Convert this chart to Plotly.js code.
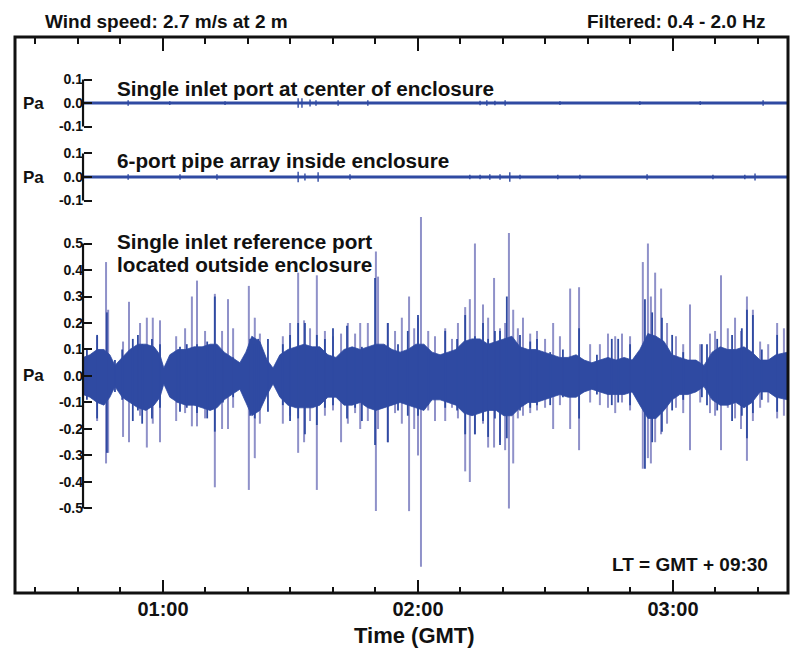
<!DOCTYPE html>
<html>
<head>
<meta charset="utf-8">
<script src="https://cdn.plot.ly/plotly-3.0.1.min.js"></script>
<style>html,body{margin:0;padding:0;background:#fff;}#chart{width:795px;height:651px;}</style>
</head>
<body>
<div id="chart"></div>
<script>
// ---- data (time in minutes after 00:00 GMT, pressure in Pa) ----
var baseTime = [41.2, 207.0];
var baseVal = [0, 0];

var p1Time = [51.8,61.6,74.6,91.8,92.7,94.6,96.0,101.2,108.2,134.6,136.2,138.1,140.5,153.4,172.2,186.4,201.2];
var p1Amp  = [0.012,0.008,0.008,0.02,0.02,0.015,0.012,0.012,0.012,0.01,0.012,0.01,0.012,0.008,0.008,0.008,0.012];

var p2Time = [51.8,64.0,72.7,91.8,93.4,96.5,104.0,132.2,134.6,136.9,139.3,141.6,144.0,152.9,158.1,173.9,189.4,196.9,199.3];
var p2Amp  = [0.012,0.012,0.012,0.022,0.015,0.02,0.012,0.01,0.01,0.012,0.012,0.02,0.01,0.01,0.01,0.012,0.01,0.01,0.015];

// dense band envelope of the reference port record
var refTime = [41.2,42.8,44.5,46.1,47.5,48.7,50.4,52.2,54.1,56.0,
  57.9,59.3,60.2,61.6,63.5,65.4,67.3,69.2,71.1,72.7,
  74.4,76.2,78.1,79.5,80.9,82.8,84.5,85.9,87.5,89.4,
  91.3,93.2,95.1,96.9,98.8,100.7,102.6,104.5,106.4,108.2,
  110.1,112.0,113.9,115.8,117.6,119.5,121.4,123.3,125.2,127.1,
  128.9,130.8,132.7,134.6,136.5,138.4,140.2,142.1,144.0,145.9,
  147.8,149.6,151.5,153.4,155.3,157.2,159.1,160.9,162.8,164.7,
  166.6,168.5,170.4,172.2,174.1,176.0,177.9,179.8,181.6,183.5,
  185.4,187.3,189.2,191.1,192.9,194.8,196.7,198.6,200.5,202.4,
  204.2,207.0];
var refUpper = [0.07,0.08,0.10,0.10,0.08,0.04,0.07,0.10,0.12,0.12,
  0.11,0.08,0.03,0.08,0.10,0.10,0.11,0.11,0.12,0.12,
  0.09,0.07,0.05,0.09,0.15,0.13,0.06,0.03,0.08,0.10,
  0.11,0.12,0.11,0.11,0.08,0.07,0.10,0.11,0.10,0.11,
  0.12,0.12,0.10,0.09,0.10,0.12,0.12,0.09,0.08,0.09,
  0.10,0.13,0.14,0.14,0.12,0.13,0.14,0.15,0.11,0.10,
  0.10,0.09,0.08,0.07,0.07,0.08,0.06,0.05,0.06,0.07,
  0.06,0.07,0.06,0.10,0.16,0.15,0.13,0.08,0.07,0.06,
  0.06,0.04,0.09,0.11,0.10,0.10,0.11,0.09,0.06,0.06,
  0.08,0.09];
var refLower = [-0.07,-0.08,-0.10,-0.11,-0.08,-0.04,-0.08,-0.10,-0.12,-0.13,
  -0.11,-0.08,-0.03,-0.08,-0.10,-0.11,-0.11,-0.12,-0.13,-0.12,
  -0.09,-0.07,-0.05,-0.10,-0.15,-0.13,-0.07,-0.03,-0.08,-0.11,
  -0.12,-0.12,-0.12,-0.11,-0.08,-0.08,-0.11,-0.11,-0.10,-0.12,
  -0.13,-0.12,-0.11,-0.10,-0.11,-0.12,-0.13,-0.09,-0.09,-0.10,
  -0.11,-0.14,-0.15,-0.14,-0.13,-0.13,-0.15,-0.15,-0.12,-0.10,
  -0.10,-0.09,-0.08,-0.07,-0.08,-0.08,-0.06,-0.05,-0.06,-0.07,
  -0.07,-0.07,-0.06,-0.11,-0.16,-0.16,-0.13,-0.09,-0.07,-0.07,
  -0.06,-0.04,-0.09,-0.11,-0.11,-0.10,-0.12,-0.10,-0.06,-0.06,
  -0.08,-0.09];

// medium dark oscillations sticking out of the band
var hairTime = [42.1,44.5,46.8,48.7,50.4,52.9,54.1,55.1,57.4,59.3,
  63.3,64.0,65.6,68.0,70.4,72.2,74.1,76.5,80.5,81.6,
  82.4,84.7,88.2,89.9,91.8,93.4,96.2,98.1,100.0,103.3,
  105.2,106.8,109.9,112.9,115.3,117.6,120.0,122.4,126.4,129.2,
  131.1,133.4,135.3,136.5,138.1,139.3,140.9,144.0,146.4,148.0,
  151.1,154.1,157.9,162.1,165.6,167.1,169.9,173.4,175.1,177.4,
  179.8,182.4,186.8,188.0,190.4,193.9,196.2,197.4,198.8,200.9,
  204.5];
var hairHigh = [0.10,0.155,0.24,0.06,0.10,0.14,0.155,0.12,0.14,0.12,
  0.09,0.11,0.12,0.12,0.13,0.30,0.09,0.07,0.14,0.12,
  0.14,0.14,0.12,0.155,0.20,0.20,0.155,0.14,0.18,0.19,
  0.10,0.11,0.37,0.20,0.12,0.17,0.23,0.10,0.17,0.14,
  0.23,0.15,0.20,0.14,0.17,0.17,0.30,0.155,0.13,0.14,
  0.09,0.10,0.18,0.08,0.14,0.14,0.12,0.29,0.24,0.22,
  0.155,0.09,0.12,0.12,0.14,0.155,0.18,0.25,0.23,0.10,
  0.155];
var hairLow = [-0.09,-0.16,-0.29,-0.06,-0.09,-0.17,-0.13,-0.18,-0.16,-0.12,
  -0.10,-0.135,-0.12,-0.14,-0.16,-0.21,-0.10,-0.08,-0.15,-0.16,
  -0.13,-0.135,-0.11,-0.17,-0.16,-0.22,-0.185,-0.12,-0.11,-0.16,
  -0.12,-0.17,-0.26,-0.25,-0.13,-0.15,-0.15,-0.11,-0.12,-0.13,
  -0.22,-0.22,-0.17,-0.23,-0.16,-0.26,-0.235,-0.13,-0.12,-0.11,
  -0.11,-0.08,-0.16,-0.07,-0.11,-0.10,-0.11,-0.35,-0.25,-0.21,
  -0.13,-0.09,-0.08,-0.11,-0.13,-0.17,-0.15,-0.235,-0.14,-0.09,
  -0.135];

// tall isolated pressure spikes
var spikeTime = [44.5,46.6,47.1,50.6,52.0,54.6,56.2,57.6,59.3,63.1,
  65.2,66.8,68.0,69.9,72.2,73.9,75.3,76.5,80.2,81.6,
  82.8,88.2,89.9,91.8,93.2,94.6,96.2,98.1,100.0,101.9,
  103.5,105.2,106.4,108.2,110.1,110.6,112.9,114.6,116.2,117.9,
  119.1,120.0,120.7,122.4,124.0,126.4,128.0,129.4,131.1,132.2,
  133.4,135.3,136.5,137.9,139.3,140.5,141.4,142.4,143.5,144.7,
  146.4,148.0,149.9,151.8,153.4,155.8,157.9,160.5,162.8,164.7,
  166.4,168.0,169.9,172.9,174.1,174.8,175.8,177.2,178.6,180.7,
  182.4,184.0,186.4,188.7,189.9,191.3,192.9,194.6,196.0,197.4,
  198.8,200.5,202.4,204.5,206.1];
var spikeHigh = [0.15,0.43,0.25,0.13,0.28,0.20,0.22,0.22,0.21,0.15,
  0.18,0.30,0.36,0.17,0.31,0.17,0.29,0.18,0.34,0.22,
  0.16,0.15,0.20,0.39,0.21,0.18,0.38,0.17,0.15,0.16,
  0.20,0.16,0.20,0.20,0.47,0.375,0.20,0.17,0.22,0.30,
  0.18,0.22,0.60,0.17,0.15,0.18,0.14,0.20,0.26,0.29,
  0.50,0.27,0.22,0.37,0.18,0.20,0.54,0.25,0.18,0.22,
  0.16,0.17,0.14,0.20,0.15,0.33,0.335,0.12,0.12,0.16,
  0.15,0.16,0.15,0.43,0.50,0.30,0.39,0.33,0.20,0.15,
  0.12,0.27,0.12,0.16,0.17,0.38,0.18,0.22,0.17,0.30,
  0.25,0.13,0.12,0.20,0.18];
var spikeLow = [-0.17,-0.33,-0.29,-0.23,-0.25,-0.15,-0.27,-0.18,-0.25,-0.17,
  -0.14,-0.19,-0.19,-0.16,-0.42,-0.20,-0.20,-0.12,-0.43,-0.31,
  -0.18,-0.18,-0.15,-0.29,-0.25,-0.17,-0.43,-0.15,-0.13,-0.25,
  -0.18,-0.14,-0.20,-0.17,-0.51,-0.20,-0.25,-0.14,-0.18,-0.51,
  -0.20,-0.30,-0.72,-0.13,-0.17,-0.17,-0.12,-0.16,-0.36,-0.40,
  -0.22,-0.18,-0.27,-0.27,-0.25,-0.28,-0.50,-0.33,-0.16,-0.15,
  -0.14,-0.13,-0.12,-0.20,-0.11,-0.20,-0.28,-0.10,-0.11,-0.12,
  -0.14,-0.10,-0.13,-0.35,-0.31,-0.33,-0.25,-0.22,-0.18,-0.12,
  -0.14,-0.28,-0.10,-0.14,-0.15,-0.28,-0.12,-0.16,-0.20,-0.32,
  -0.17,-0.12,-0.10,-0.16,-0.15];

var hourTicks = [60, 120, 180];
var hourLabels = ['01:00', '02:00', '03:00'];
var smallTicks = [-0.1, 0, 0.1];
var smallLabels = ['-0.1', '0.0', '0.1'];
var refTicks = [-0.5,-0.4,-0.3,-0.2,-0.1,0,0.1,0.2,0.3,0.4,0.5];
var refLabels = ['-0.5','-0.4','-0.3','-0.2','-0.1','0.0','0.1','0.2','0.3','0.4','0.5'];

// ---- build traces ----
function segs(t, hi, lo) {
  var x = [], y = [];
  for (var i = 0; i < t.length; i++) {
    x.push(t[i], t[i], null);
    y.push(hi[i], lo[i], null);
  }
  return {x: x, y: y};
}
function neg(a) { return a.map(function (v) { return -v; }); }

var BAND = '#2f4aa2';
var SPIKE = 'rgba(112,114,186,0.78)';
var FONT = 'Liberation Sans, Arial, Helvetica, sans-serif';

var s1 = segs(p1Time, p1Amp, neg(p1Amp));
var s2 = segs(p2Time, p2Amp, neg(p2Amp));
var s3 = segs(spikeTime, spikeHigh, spikeLow);
var h3 = segs(hairTime, hairHigh, hairLow);

var bandX = refTime.concat(refTime.slice().reverse());
var bandY = refUpper.concat(refLower.slice().reverse());

var traces = [
  {x: baseTime, y: baseVal, xaxis: 'x', yaxis: 'y', mode: 'lines', line: {color: BAND, width: 2.8}, hoverinfo: 'skip', showlegend: false},
  {x: s1.x, y: s1.y, xaxis: 'x', yaxis: 'y', mode: 'lines', line: {color: BAND, width: 1.4}, hoverinfo: 'skip', showlegend: false},
  {x: baseTime, y: baseVal, xaxis: 'x', yaxis: 'y2', mode: 'lines', line: {color: BAND, width: 2.8}, hoverinfo: 'skip', showlegend: false},
  {x: s2.x, y: s2.y, xaxis: 'x', yaxis: 'y2', mode: 'lines', line: {color: BAND, width: 1.4}, hoverinfo: 'skip', showlegend: false},
  {x: s3.x, y: s3.y, xaxis: 'x', yaxis: 'y3', mode: 'lines', line: {color: SPIKE, width: 2}, hoverinfo: 'skip', showlegend: false},
  {x: bandX, y: bandY, xaxis: 'x', yaxis: 'y3', mode: 'lines', fill: 'toself', fillcolor: BAND, line: {color: BAND, width: 0.8}, hoverinfo: 'skip', showlegend: false},
  {x: h3.x, y: h3.y, xaxis: 'x', yaxis: 'y3', mode: 'lines', line: {color: BAND, width: 1.8}, hoverinfo: 'skip', showlegend: false},
  {x: [null], y: [null], xaxis: 'x2', yaxis: 'y3', mode: 'lines', hoverinfo: 'skip', showlegend: false}
];

var xr = [25.18, 207.06];
var minor = {tickmode: 'linear', tick0: 0, dtick: 10, ticks: 'inside', ticklen: 6, tickwidth: 2, tickcolor: '#111', showgrid: false};
var YP = 0.088;
function yax(domain, range, vals, labels) {
  return {domain: domain, range: range, anchor: 'free', position: YP,
    tickmode: 'array', tickvals: vals, ticktext: labels,
    ticks: 'inside', ticklen: 8, tickwidth: 2, tickcolor: '#111',
    showgrid: false, zeroline: false, showline: false, fixedrange: true,
    tickfont: {family: FONT, size: 14, color: '#111', weight: 'bold'}};
}
function note(text, xref, yref, x, y, xa, size, ya) {
  return {text: text, xref: xref, yref: yref, x: x, y: y, xanchor: xa, yanchor: ya || 'middle', showarrow: false,
    font: {family: FONT, size: size, color: '#111', weight: 'bold'}};
}
function py(px) { return (593 - px) / 556; }

var layout = {
  width: 795, height: 651,
  margin: {l: 15, r: 7, t: 37, b: 58},
  paper_bgcolor: '#fff', plot_bgcolor: '#fff',
  font: {family: FONT, color: '#111'},
  showlegend: false,
  xaxis: {domain: [0, 1], range: xr, anchor: 'free', position: 0,
    tickmode: 'array', tickvals: hourTicks, ticktext: hourLabels,
    ticks: 'inside', ticklen: 13, tickwidth: 2.5, tickcolor: '#111',
    showgrid: false, zeroline: false, showline: false, fixedrange: true,
    minor: minor, ticklabelstandoff: 2,
    tickfont: {family: FONT, size: 20, color: '#111', weight: 'bold'}},
  xaxis2: {overlaying: 'x', side: 'top', anchor: 'free', position: 1, range: xr,
    tickmode: 'array', tickvals: hourTicks, ticktext: hourLabels, showticklabels: false,
    ticks: 'inside', ticklen: 13, tickwidth: 2.5, tickcolor: '#111',
    showgrid: false, zeroline: false, showline: false, fixedrange: true,
    minor: minor},
  yaxis: yax([0.8201, 0.9406], [-0.1447, 0.1404], smallTicks, smallLabels),
  yaxis2: yax([0.6888, 0.8076], [-0.1404, 0.1404], smallTicks, smallLabels),
  yaxis3: yax([0.0324, 0.6853], [-0.751, 0.619], refTicks, refLabels),
  shapes: [
    {type: 'rect', xref: 'paper', yref: 'paper', x0: 0, x1: 1, y0: 0, y1: 1, line: {color: '#111', width: 3}, layer: 'above'},
    {type: 'line', xref: 'paper', yref: 'y', x0: YP, x1: YP, y0: -0.1, y1: 0.1, line: {color: '#111', width: 2.2}},
    {type: 'line', xref: 'paper', yref: 'y2', x0: YP, x1: YP, y0: -0.1, y1: 0.1, line: {color: '#111', width: 2.2}},
    {type: 'line', xref: 'paper', yref: 'y3', x0: YP, x1: YP, y0: -0.5, y1: 0.5, line: {color: '#111', width: 2.2}}
  ],
  annotations: [
    note('Wind speed: 2.7 m/s at 2 m', 'paper', 'paper', 0.0362, py(22), 'left', 19),
    note('Filtered: 0.4 - 2.0 Hz', 'paper', 'paper', 0.9728, py(22), 'right', 19),
    note('Single inlet port at center of enclosure', 'paper', 'paper', 0.1294, py(88), 'left', 20.7),
    note('6-port pipe array inside enclosure', 'paper', 'paper', 0.1294, py(161), 'left', 20.7),
    note('Single inlet reference port', 'paper', 'paper', 0.1294, py(241), 'left', 20.7),
    note('located outside enclosure', 'paper', 'paper', 0.1294, py(264), 'left', 20.7),
    note('LT = GMT + 09:30', 'paper', 'paper', 0.9767, py(564), 'right', 19),
    note('Time (GMT)', 'paper', 'paper', (414.5 - 15) / 773, py(650), 'center', 22, 'bottom'),
    note('Pa', 'paper', 'y', 0.0233, 0, 'center', 17),
    note('Pa', 'paper', 'y2', 0.0233, 0, 'center', 17),
    note('Pa', 'paper', 'y3', 0.0233, 0, 'center', 17)
  ]
};

Plotly.newPlot('chart', traces, layout, {staticPlot: true, displayModeBar: false});
</script>
</body>
</html>
